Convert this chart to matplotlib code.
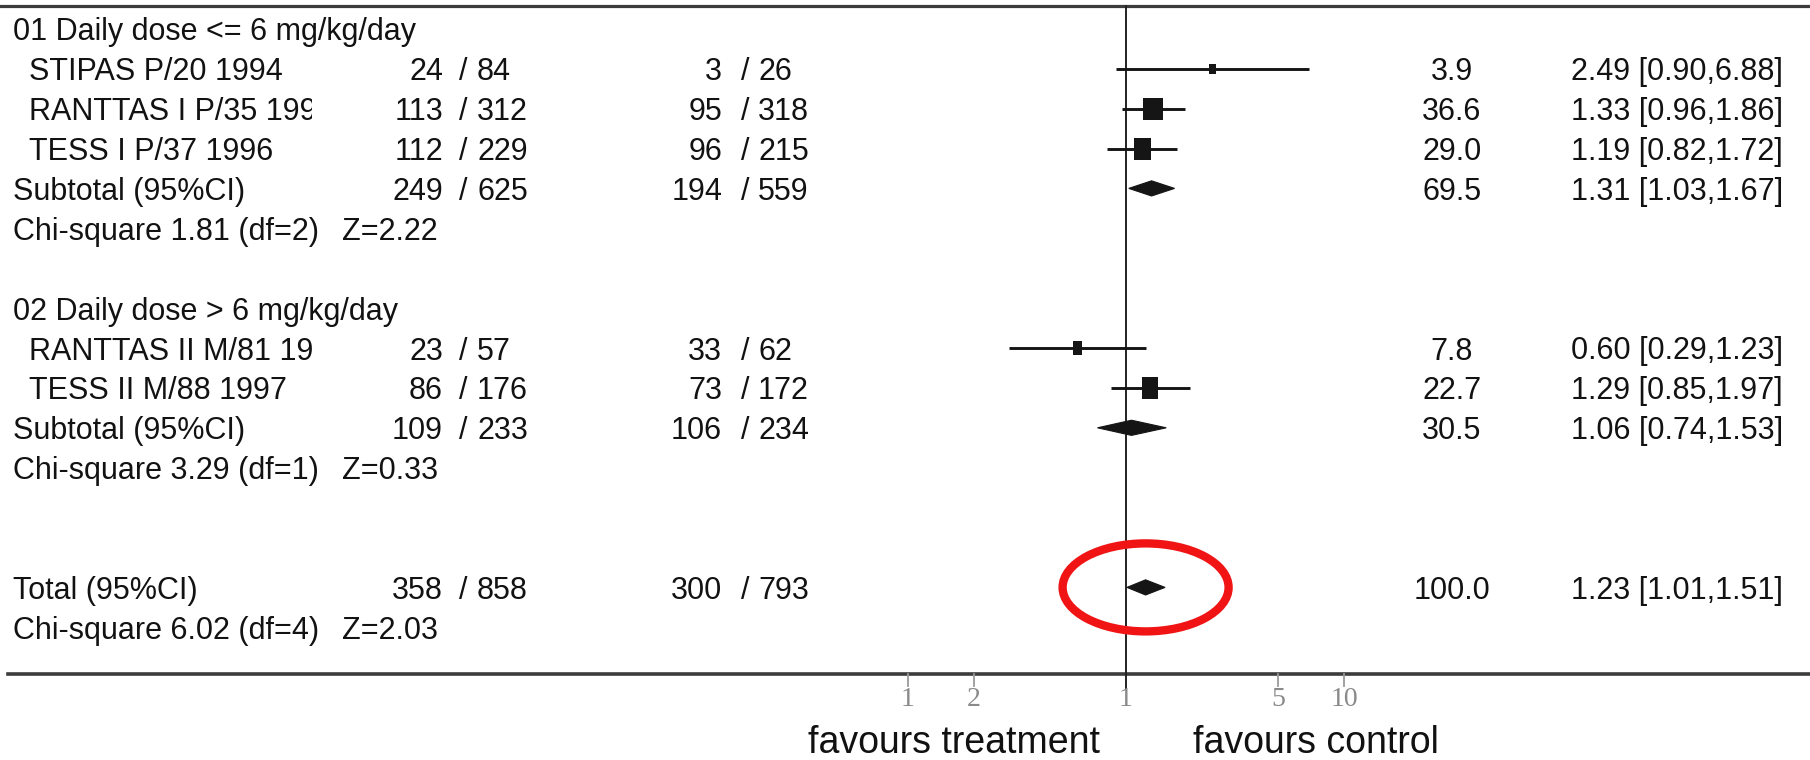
import matplotlib
matplotlib.use("Agg")
import matplotlib.pyplot as plt
from matplotlib.patches import Polygon, Ellipse, Rectangle
from matplotlib.transforms import ScaledTranslation

# ---------------- data ----------------
group_titles = ["01 Daily dose <= 6 mg/kg/day", "02 Daily dose > 6 mg/kg/day"]

study_names = ["STIPAS P/20 1994", "RANTTAS I P/35 1996", "TESS I P/37 1996",
               "RANTTAS II M/81 1998", "TESS II M/88 1997"]
study_group = [0, 0, 0, 1, 1]
treat_events = [24, 113, 112, 23, 86]
treat_total = [84, 312, 229, 57, 176]
ctrl_events = [3, 95, 96, 33, 73]
ctrl_total = [26, 318, 215, 62, 172]
study_weight = [3.9, 36.6, 29.0, 7.8, 22.7]
study_or = [2.49, 1.33, 1.19, 0.60, 1.29]
study_lo = [0.90, 0.96, 0.82, 0.29, 0.85]
study_hi = [6.88, 1.86, 1.72, 1.23, 1.97]

sub_label = "Subtotal (95%CI)"
sub_treat_events = [249, 109]
sub_treat_total = [625, 233]
sub_ctrl_events = [194, 106]
sub_ctrl_total = [559, 234]
sub_weight = [69.5, 30.5]
sub_or = [1.31, 1.06]
sub_lo = [1.03, 0.74]
sub_hi = [1.67, 1.53]
sub_chi = [1.81, 3.29]
sub_df = [2, 1]
sub_z = [2.22, 0.33]

total_label = "Total (95%CI)"
total_treat_events = 358
total_treat_total = 858
total_ctrl_events = 300
total_ctrl_total = 793
total_weight = 100.0
total_or = 1.23
total_lo = 1.01
total_hi = 1.51
total_chi = 6.02
total_df = 4
total_z = 2.03

tick_values = [0.1, 0.2, 1, 5, 10]
tick_labels = ["1", "2", "1", "5", "10"]
favour_labels = ["favours treatment", "favours control"]

# ---------------- layout ----------------
W, H = 1810, 760
ROW0_PX, ROW_PX = 28.8, 39.9          # pixel centre of row 0, row pitch
ONE_PX, DECADE_PX = 1126.0, 218.0     # pixel of OR = 1 and pixels per decade

fig = plt.figure(figsize=(W / 100, H / 100), dpi=100)
fig.patch.set_facecolor("white")
ax = fig.add_axes([0, 0, 1, 1])
ax.set_xscale("log")
ax.set_xlim(10 ** (-ONE_PX / DECADE_PX), 10 ** ((W - ONE_PX) / DECADE_PX))
ax.set_ylim((H - ROW0_PX) / ROW_PX, -ROW0_PX / ROW_PX)
ax.axis("off")

ytr = ax.get_yaxis_transform()  # x in axes fraction, y in rows


def fx(px):
    return px / W


def prow(py):
    return (py - ROW0_PX) / ROW_PX


TXT = "#121212"
FONT = "Liberation Sans"
FS = 22

X_HDR, X_STUDY, X_CLIP = 12.6, 29, 312
X_T_NUM, X_T_SL, X_T_DEN = 443, 463, 477
X_C_NUM, X_C_SL, X_C_DEN = 722, 745, 758
X_WT, X_OR, X_Z = 1452, 1571, 342

clip_rect = Rectangle((0, 0), X_CLIP / W, 1, transform=ax.transAxes,
                      facecolor="none", edgecolor="none")
ax.add_patch(clip_rect)


def put(x, row, s, ha="left", clip=False, **kw):
    t = ax.text(fx(x), row, s, transform=ytr, ha=ha, va="center_baseline",
                fontsize=FS, family=FONT, color=TXT, **kw)
    if clip:
        t.set_clip_on(True)
        t.set_clip_path(clip_rect)
    return t


def counts(row, te, tt, ce, ct):
    put(X_T_NUM, row, f"{te}", ha="right")
    put(X_T_SL, row, "/", ha="center")
    put(X_T_DEN, row, f"{tt}")
    put(X_C_NUM, row, f"{ce}", ha="right")
    put(X_C_SL, row, "/", ha="center")
    put(X_C_DEN, row, f"{ct}")


def stats(row, w, o, lo, hi):
    put(X_WT, row, f"{w:.1f}", ha="center")
    put(X_OR, row, f"{o:.2f} [{lo:.2f},{hi:.2f}]")


LINE_C = "#151515"
DIA_H = 0.19


def diamond(row, o, lo, hi):
    ax.add_patch(Polygon([(lo, row), (o, row - DIA_H), (hi, row), (o, row + DIA_H)],
                         closed=True, facecolor=LINE_C, edgecolor=LINE_C, lw=0.8,
                         zorder=4))


def box(row, o, weight):
    wpx = 3.2 * weight ** 0.5
    hpx = min(1.6 * wpx, 22)
    tr = fig.dpi_scale_trans + ScaledTranslation(o, row, ax.transData)
    ax.add_patch(Rectangle((-wpx / 200, -hpx / 200), wpx / 100, hpx / 100,
                           transform=tr, facecolor=LINE_C, edgecolor="none", zorder=4))


row = 0
for g in range(len(group_titles)):
    put(X_HDR, row, group_titles[g])
    row += 1
    for i, name in enumerate(study_names):
        if study_group[i] != g:
            continue
        put(X_STUDY, row, name, clip=True)
        counts(row, treat_events[i], treat_total[i], ctrl_events[i], ctrl_total[i])
        stats(row, study_weight[i], study_or[i], study_lo[i], study_hi[i])
        ax.plot([study_lo[i], study_hi[i]], [row, row], color=LINE_C, lw=2.1,
                solid_capstyle="butt", zorder=3)
        box(row, study_or[i], study_weight[i])
        row += 1
    put(X_HDR, row, sub_label)
    counts(row, sub_treat_events[g], sub_treat_total[g], sub_ctrl_events[g], sub_ctrl_total[g])
    stats(row, sub_weight[g], sub_or[g], sub_lo[g], sub_hi[g])
    diamond(row, sub_or[g], sub_lo[g], sub_hi[g])
    row += 1
    put(X_HDR, row, f"Chi-square {sub_chi[g]:.2f} (df={sub_df[g]})")
    put(X_Z, row, f"Z={sub_z[g]:.2f}")
    row += 2

row += 1
total_row = row
put(X_HDR, row, total_label)
counts(row, total_treat_events, total_treat_total, total_ctrl_events, total_ctrl_total)
stats(row, total_weight, total_or, total_lo, total_hi)
diamond(row, total_or, total_lo, total_hi)
row += 1
put(X_HDR, row, f"Chi-square {total_chi:.2f} (df={total_df})")
put(X_Z, row, f"Z={total_z:.2f}")

# frame lines
TOP_ROW = prow(6)
AXIS_ROW = prow(674)
ax.plot([0, 1], [TOP_ROW, TOP_ROW], transform=ytr, color="#3c3c3c", lw=2.3, zorder=2)
ax.plot([fx(8), 1], [AXIS_ROW, AXIS_ROW], transform=ytr, color="#3c3c3c", lw=2.6, zorder=2)

# vertical no-effect line
ax.plot([1, 1], [TOP_ROW, prow(688)], color="#222222", lw=1.4, zorder=2)

# ticks
for v, lab in zip(tick_values, tick_labels):
    if v != 1:
        ax.plot([v, v], [AXIS_ROW, prow(686)], color="#9a9a9a", lw=1.3, zorder=2)
    ax.text(v, prow(700), lab, ha="center", va="center", fontsize=20,
            family="Liberation Serif", color="#8a8a8a")

# favours labels
for xpx, lab in zip([808, 1193], favour_labels):
    ax.text(fx(xpx), prow(753), lab, transform=ytr, ha="left", va="baseline",
            fontsize=27, family=FONT, color="#111111")

# red highlight around the overall estimate
ell = Ellipse((0.0, 0.0), 1.66, 0.88, facecolor="none", edgecolor="#f01414", lw=6.0,
              transform=fig.dpi_scale_trans + ScaledTranslation(total_or, total_row, ax.transData),
              zorder=6)
ax.add_patch(ell)

fig.savefig("out.png", dpi=100, facecolor="white")
